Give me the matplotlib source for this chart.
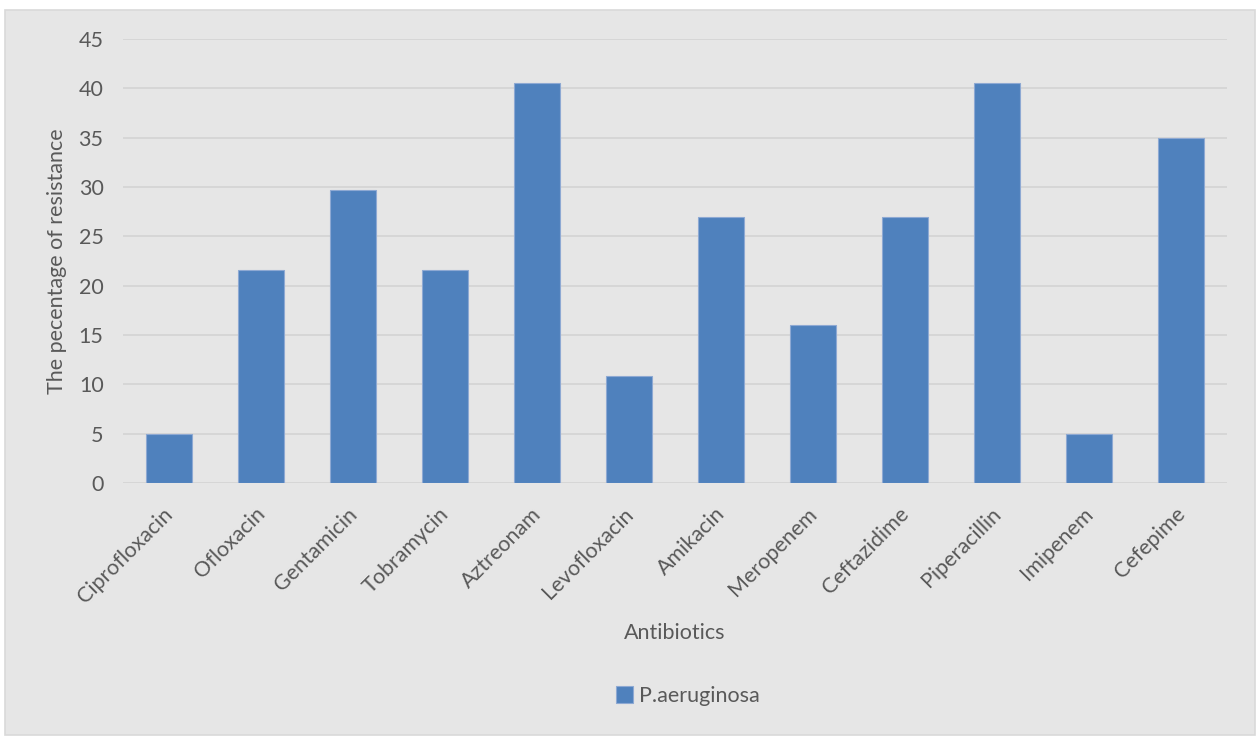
import numpy as np
import matplotlib.pyplot as plt
import matplotlib.transforms as mtransforms
from matplotlib.patches import Rectangle

antibiotics = ["Ciprofloxacin", "Ofloxacin", "Gentamicin", "Tobramycin", "Aztreonam",
               "Levofloxacin", "Amikacin", "Meropenem", "Ceftazidime", "Piperacillin",
               "Imipenem", "Cefepime"]
resistance = [5, 21.6, 29.7, 21.6, 40.5, 10.8, 27, 16, 27, 40.5, 5, 35]
yticks = [0, 5, 10, 15, 20, 25, 30, 35, 40, 45]

plt.rcParams['font.family'] = ['Lato', 'DejaVu Sans']
txt = '#595959'
bg = '#E6E6E6'
fs = 15.5

W, H = 1257, 741
fig = plt.figure(figsize=(W / 100, H / 100), dpi=100)
fig.patch.set_facecolor('white')
# chart area box
fig.patches.append(Rectangle((5 / W, 1 - 735 / H), 1250 / W, 725 / H, transform=fig.transFigure,
                             facecolor=bg, edgecolor='#D9D9D9', linewidth=1.2, zorder=-5))

ax = fig.add_axes([123 / W, 1 - 483 / H, (1227 - 123) / W, (483 - 39) / H])
ax.set_facecolor(bg)
x = np.arange(len(antibiotics))
ax.bar(x, resistance, width=0.5, color='#4F81BD', edgecolor='#8EA9D3', linewidth=0.8,
       label='P.aeruginosa', zorder=3)
ax.set_xlim(-0.5, len(antibiotics) - 0.5)
ax.set_ylim(0, 45)
ax.set_yticks(yticks)
ax.grid(axis='y', color='#D5D5D5', linewidth=1.3, zorder=0)
for s in ax.spines.values():
    s.set_visible(False)
ax.tick_params(length=0, colors=txt, labelsize=fs)
ax.tick_params(axis='y', pad=14)
ax.set_xticks(x)
ax.set_xticklabels(antibiotics, rotation=45, ha='right', rotation_mode='anchor')
ax.tick_params(axis='x', pad=10)
shift = mtransforms.ScaledTranslation(-6 / 100, -7 / 100, fig.dpi_scale_trans)
for lab in ax.get_xticklabels():
    lab.set_transform(lab.get_transform() + shift)
ax.set_ylabel('The pecentage of resistance', color=txt, fontsize=fs, labelpad=8)
fig.text(675 / W, 1 - 633 / H, 'Antibiotics', color=txt, fontsize=fs, ha='center', va='center')
fig.legend(loc='center', bbox_to_anchor=(688 / W, 1 - 696 / H), frameon=False,
           fontsize=fs, labelcolor=txt, handlelength=0.8, handleheight=0.8, handletextpad=0.3)

fig.savefig('out.png', dpi=100)
